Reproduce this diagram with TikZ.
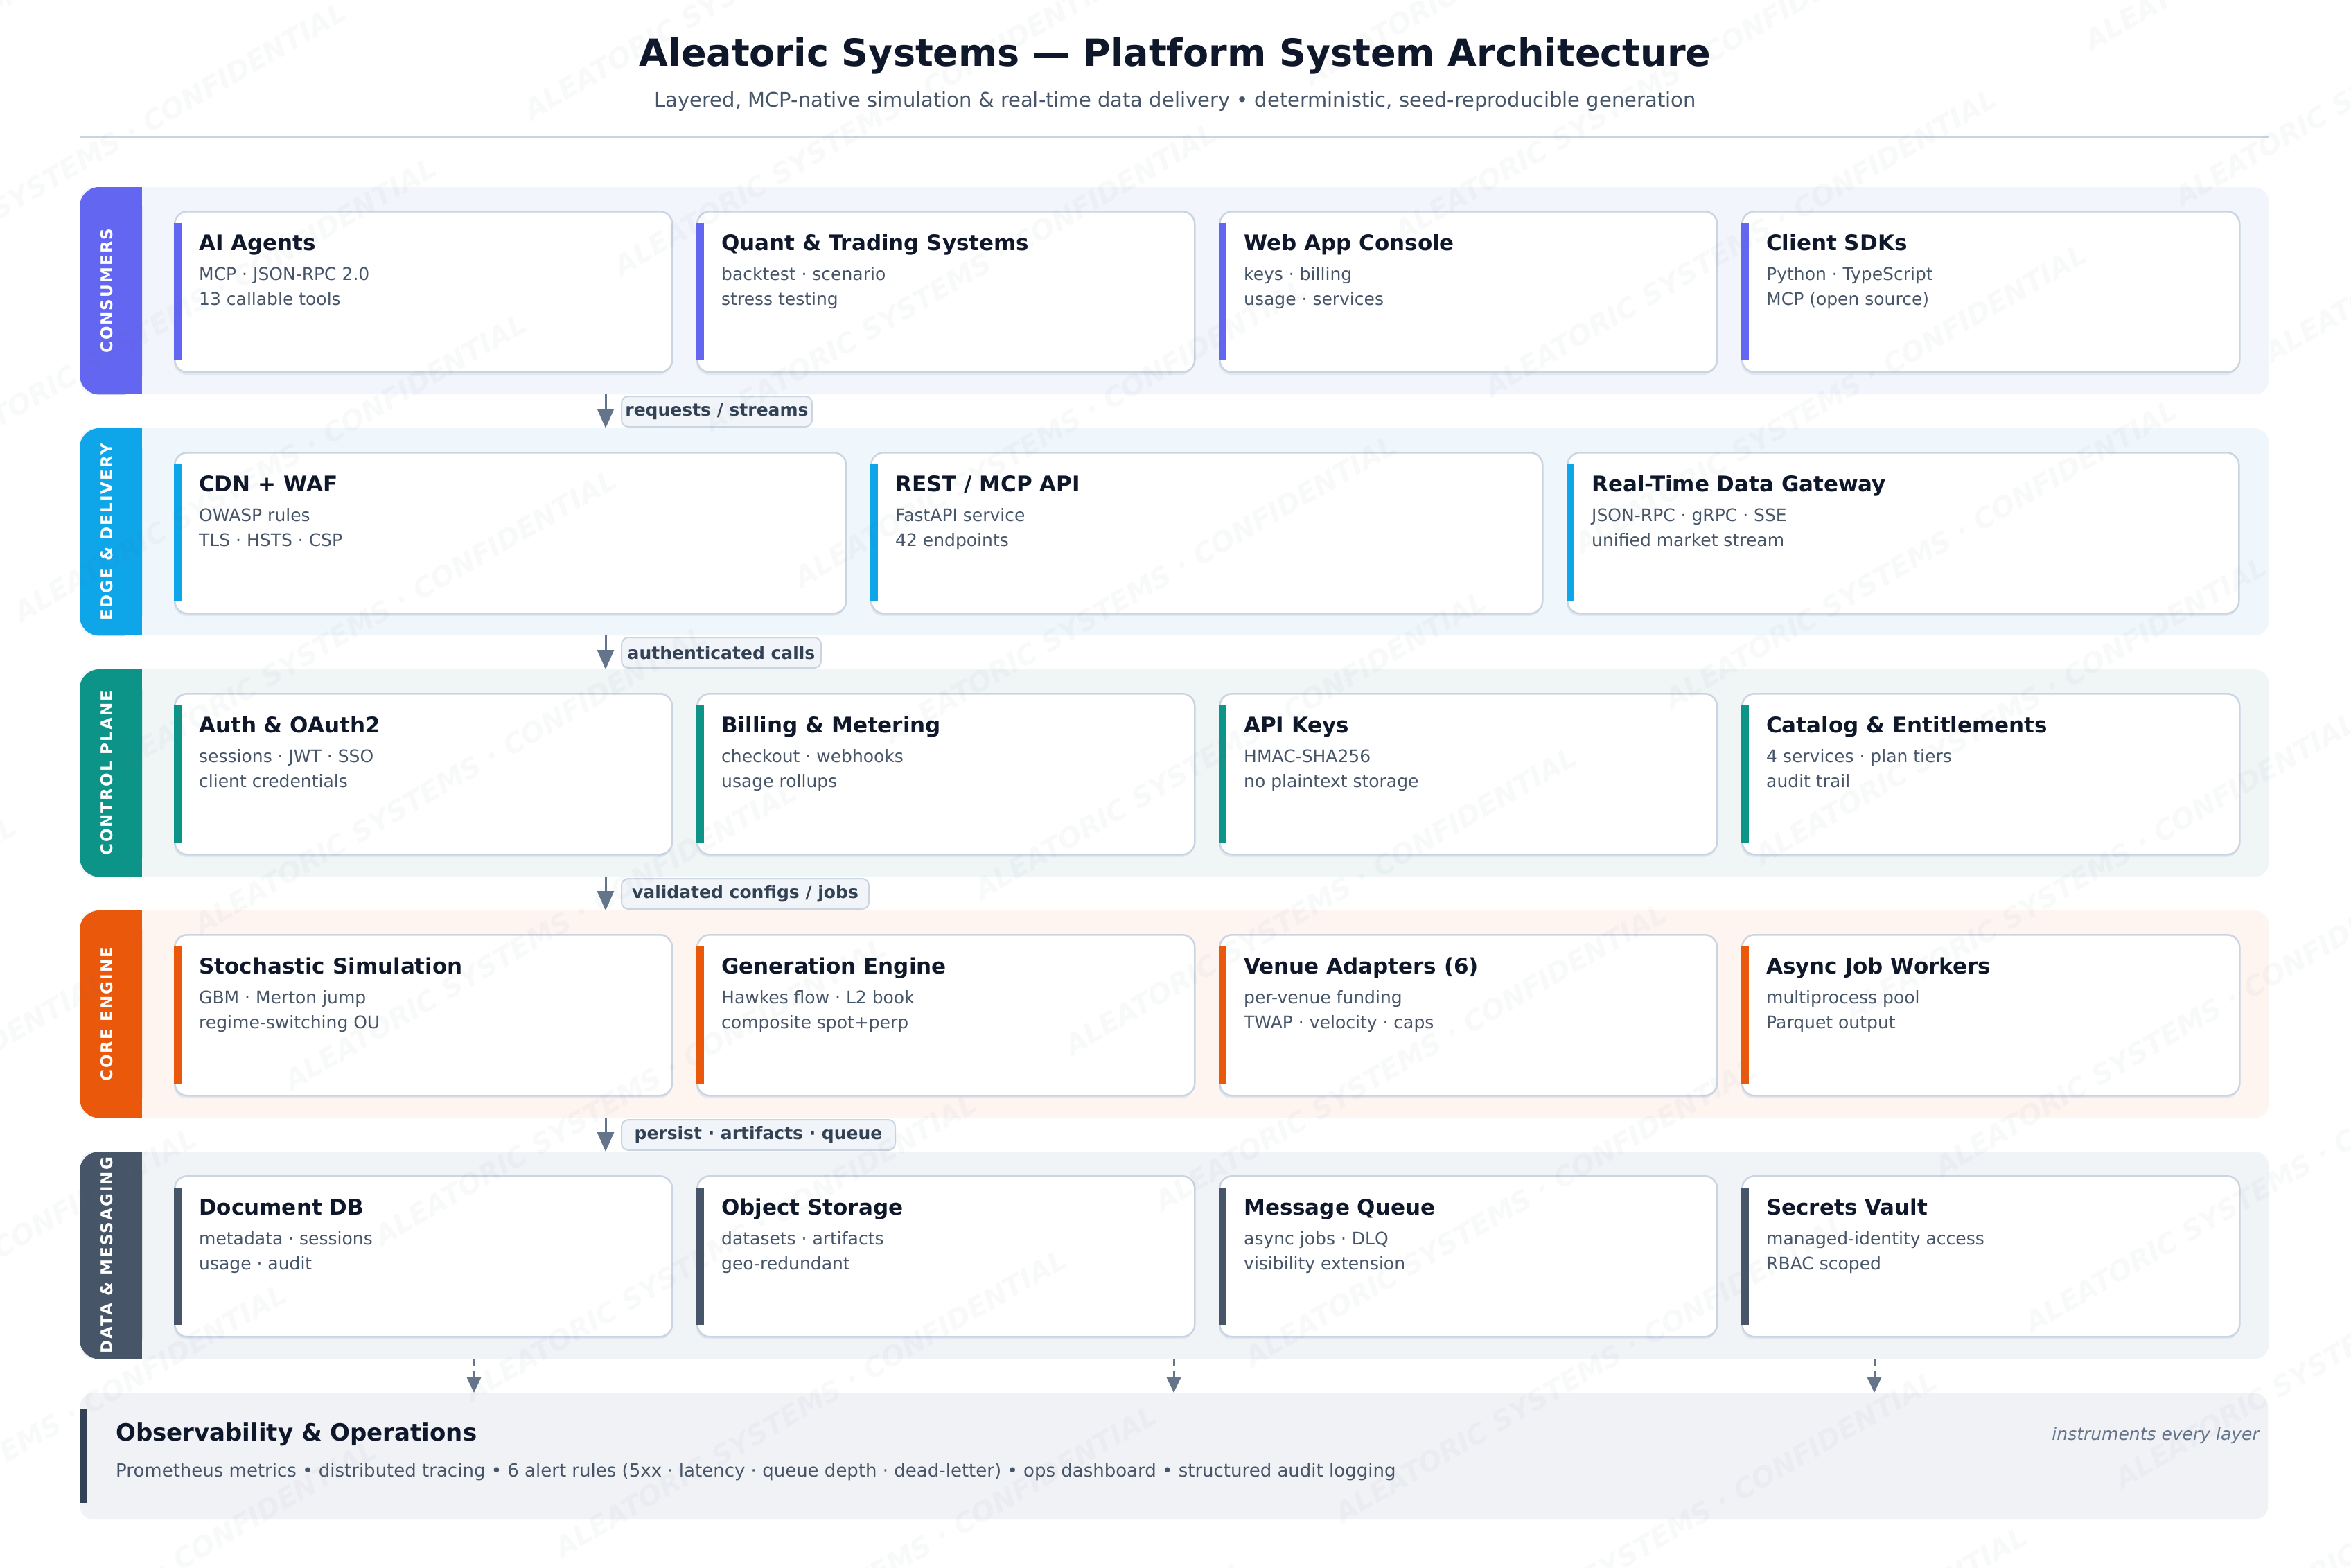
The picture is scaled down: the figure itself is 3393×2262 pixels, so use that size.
\documentclass[tikz,border=0pt]{standalone}
\usepackage{fontspec}
\setmainfont{DejaVu Sans}
\usetikzlibrary{arrows.meta}
\definecolor{ink}{HTML}{0F172A}
\definecolor{subc}{HTML}{475569}
\definecolor{lblc}{HTML}{334155}
\definecolor{muted}{HTML}{64748B}
\definecolor{rulec}{HTML}{CBD5E1}
\definecolor{shadowc}{HTML}{E2E8F0}
\definecolor{cIndigo}{HTML}{6366F1}
\definecolor{cSky}{HTML}{0EA5E9}
\definecolor{cTeal}{HTML}{0D9488}
\definecolor{cOrange}{HTML}{EA580C}
\definecolor{cSlate}{HTML}{475569}
\definecolor{tIndigo}{HTML}{F3F5FC}
\definecolor{tSky}{HTML}{F0F7FC}
\definecolor{tTeal}{HTML}{F0F6F6}
\definecolor{tOrange}{HTML}{FEF5F1}
\definecolor{tSlate}{HTML}{F1F4F7}
\definecolor{obsfill}{HTML}{F1F2F6}
\definecolor{obsbar}{HTML}{334155}
\definecolor{lblfill}{HTML}{F1F5F9}

\tikzset{
  band/.style={rounded corners=20pt, inner sep=0pt, minimum width=3159pt, minimum height=299pt, anchor=north west},
  cardbox/.style={draw=rulec, line width=2.5pt, fill=white, rounded corners=18pt, inner sep=0pt, minimum height=232pt, anchor=north west},
  ctitle/.style={anchor=base west, inner sep=0pt, text=ink, font=\bfseries\fontsize{31}{37}\selectfont},
  csub/.style={anchor=base west, inner sep=0pt, text=subc, font=\fontsize{25}{30}\selectfont},
  tablbl/.style={rotate=90, inner sep=0pt, text=white, font=\bfseries\fontsize{23}{27}\selectfont\addfontfeatures{LetterSpace=9}},
  flow/.style={draw=muted, line width=3pt, -{Triangle[length=28pt, width=24pt]}},
  dflow/.style={draw=muted, line width=3pt, dash pattern=on 10pt off 8pt, -{Triangle[length=22pt, width=20pt]}},
  lbl/.style={anchor=west, draw=rulec, line width=2pt, fill=lblfill, rounded corners=10pt, minimum height=44pt, inner xsep=4pt, inner ysep=0pt, text=lblc, font=\bfseries\fontsize{25}{29}\selectfont},
  wmark/.style={rotate=30, inner sep=0pt, text=muted, font=\bfseries\itshape\fontsize{40}{44}\selectfont}
}

% name, x, y, width, accent colour, title, line 1, line 2
\newcommand{\svccard}[8]{%
  \fill[shadowc, rounded corners=18pt] (#2,#3+5) rectangle (#2+#4,#3+237);
  \node[cardbox, minimum width=#4pt] (#1) at (#2,#3) {};
  \fill[#5] ([yshift=-18pt]#1.north west) rectangle ([xshift=11pt,yshift=19pt]#1.south west);
  \node[ctitle] (#1-t) at ([xshift=36pt,yshift=-57pt]#1.north west) {#6};
  \node[csub] (#1-a) at ([xshift=36pt,yshift=-100pt]#1.north west) {#7};
  \node[csub] (#1-b) at ([xshift=36pt,yshift=-136pt]#1.north west) {#8};
}
% band name, y, tint, colour, label
\newcommand{\layerband}[5]{%
  \node[band, fill=#3] (#1) at (115,#2) {};
  \fill[#4, rounded corners=28pt] (#1.north west) rectangle ([xshift=90pt]#1.south west);
  \fill[#4] ([xshift=45pt]#1.north west) rectangle ([xshift=90pt]#1.south west);
  \node[tablbl] (#1-lbl) at ([xshift=39pt]#1.west) {#5};
}

\begin{document}
\begin{tikzpicture}[x=1pt, y=-1pt]
\useasboundingbox (0,0) rectangle (3393,2262);
\fill[white] (0,0) rectangle (3393,2262);

% title
\node[anchor=base, inner sep=0pt, text=ink, font=\bfseries\fontsize{54}{60}\selectfont] (title) at (1696,95) {Aleatoric Systems — Platform System Architecture};
\node[anchor=base, inner sep=0pt, text=subc, font=\fontsize{29}{34}\selectfont] (subtitle) at (1696,154) {Layered, MCP-native simulation \& real-time data delivery • deterministic, seed-reproducible generation};
\coordinate (ruleL) at (115,197);
\coordinate (ruleR) at (3274,197);
\draw[rulec, line width=3pt] (ruleL) -- (ruleR);

% layers
\layerband{L1}{270}{tIndigo}{cIndigo}{CONSUMERS}
\layerband{L2}{618}{tSky}{cSky}{EDGE \& DELIVERY}
\layerband{L3}{966}{tTeal}{cTeal}{CONTROL PLANE}
\layerband{L4}{1314}{tOrange}{cOrange}{CORE ENGINE}
\layerband{L5}{1662}{tSlate}{cSlate}{DATA \& MESSAGING}

% consumers
\svccard{agents}{251}{304}{718}{cIndigo}{AI Agents}{MCP · JSON-RPC 2.0}{13 callable tools}
\svccard{quant}{1005}{304}{718}{cIndigo}{Quant \& Trading Systems}{backtest · scenario}{stress testing}
\svccard{webapp}{1759}{304}{718}{cIndigo}{Web App Console}{keys · billing}{usage · services}
\svccard{sdks}{2513}{304}{718}{cIndigo}{Client SDKs}{Python · TypeScript}{MCP (open source)}

% edge & delivery
\svccard{cdn}{251}{652}{969}{cSky}{CDN + WAF}{OWASP rules}{TLS · HSTS · CSP}
\svccard{rest}{1256}{652}{969}{cSky}{REST / MCP API}{FastAPI service}{42 endpoints}
\svccard{rtgw}{2261}{652}{969}{cSky}{Real-Time Data Gateway}{JSON-RPC · gRPC · SSE}{unified market stream}

% control plane
\svccard{auth}{251}{1000}{718}{cTeal}{Auth \& OAuth2}{sessions · JWT · SSO}{client credentials}
\svccard{billing}{1005}{1000}{718}{cTeal}{Billing \& Metering}{checkout · webhooks}{usage rollups}
\svccard{apikeys}{1759}{1000}{718}{cTeal}{API Keys}{HMAC-SHA256}{no plaintext storage}
\svccard{catalog}{2513}{1000}{718}{cTeal}{Catalog \& Entitlements}{4 services · plan tiers}{audit trail}

% core engine
\svccard{stoch}{251}{1348}{718}{cOrange}{Stochastic Simulation}{GBM · Merton jump}{regime-switching OU}
\svccard{geneng}{1005}{1348}{718}{cOrange}{Generation Engine}{Hawkes flow · L2 book}{composite spot+perp}
\svccard{venue}{1759}{1348}{718}{cOrange}{Venue Adapters (6)}{per-venue funding}{TWAP · velocity · caps}
\svccard{workers}{2513}{1348}{718}{cOrange}{Async Job Workers}{multiprocess pool}{Parquet output}

% data & messaging
\svccard{docdb}{251}{1696}{718}{cSlate}{Document DB}{metadata · sessions}{usage · audit}
\svccard{objstore}{1005}{1696}{718}{cSlate}{Object Storage}{datasets · artifacts}{geo-redundant}
\svccard{mq}{1759}{1696}{718}{cSlate}{Message Queue}{async jobs · DLQ}{visibility extension}
\svccard{vault}{2513}{1696}{718}{cSlate}{Secrets Vault}{managed-identity access}{RBAC scoped}

% flows between layers
\coordinate (ax) at (874,0);
\draw[flow] (L1.south -| ax) -- (L2.north -| ax);
\draw[flow] (L2.south -| ax) -- (L3.north -| ax);
\draw[flow] (L3.south -| ax) -- (L4.north -| ax);
\draw[flow] (L4.south -| ax) -- (L5.north -| ax);
\node[lbl, minimum width=275pt] (lab1) at (896,594) {requests / streams};
\node[lbl, minimum width=288pt] (lab2) at (896,942) {authenticated calls};
\node[lbl, minimum width=357pt] (lab3) at (896,1290) {validated configs / jobs};
\node[lbl, minimum width=395pt] (lab4) at (896,1638) {persist · artifacts · queue};

% observability
\node[rounded corners=20pt, fill=obsfill, inner sep=0pt, minimum width=3158pt, minimum height=183pt, anchor=north west] (obs) at (115,2010) {};
\fill[obsbar] ([yshift=-24pt]obs.north west) rectangle ([xshift=11pt,yshift=24pt]obs.south west);
\node[anchor=base west, inner sep=0pt, text=ink, font=\bfseries\fontsize{34}{40}\selectfont] (obs-t) at (167,2079) {Observability \& Operations};
\node[anchor=base west, inner sep=0pt, text=subc, font=\fontsize{26}{31}\selectfont] (obs-a) at (167,2131) {Prometheus metrics • distributed tracing • 6 alert rules (5xx · latency · queue depth · dead-letter) • ops dashboard • structured audit logging};
\node[anchor=base east, inner sep=0pt, text=muted, font=\itshape\fontsize{25}{30}\selectfont] (obs-n) at (3261,2078) {instruments every layer};
\coordinate (o1) at (684,0);
\coordinate (o2) at (1694,0);
\coordinate (o3) at (2705,0);
\draw[dflow] (L5.south -| o1) -- (obs.north -| o1);
\draw[dflow] (L5.south -| o2) -- (obs.north -| o2);
\draw[dflow] (L5.south -| o3) -- (obs.north -| o3);

% watermark
\begin{scope}[opacity=0.045]
\foreach \c in {-2,...,4}{
  \foreach \r in {-2,...,16}{
    \node[wmark] at (866*\c+130*\r, -500*\c+225*\r) {ALEATORIC SYSTEMS · CONFIDENTIAL};
  }
}
\end{scope}
\end{tikzpicture}
\end{document}
